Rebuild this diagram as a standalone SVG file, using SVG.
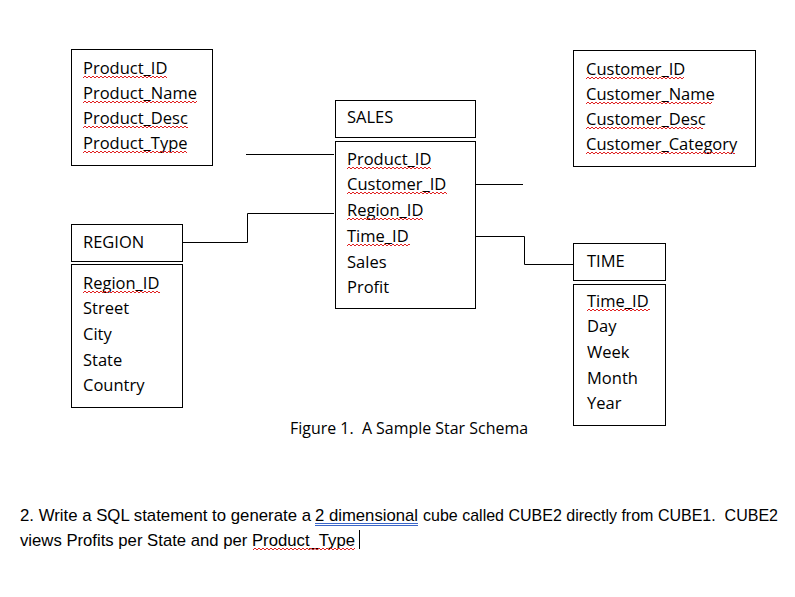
<svg xmlns="http://www.w3.org/2000/svg" width="795" height="597" viewBox="0 0 795 597">
<defs>
<pattern id="sqp" width="4" height="4" patternUnits="userSpaceOnUse">
<path d="M0 3 L2 1 L4 3" fill="none" stroke="#e02020" stroke-width="1"/>
</pattern>
</defs>
<style>
.box{fill:#fff;stroke:#000;stroke-width:1}
.t{font-family:"Open Sans","DejaVu Sans",sans-serif;font-size:16.5px;fill:#000;white-space:pre}
.q{font-family:"Liberation Sans",Arial,sans-serif;font-size:17px;fill:#000;white-space:pre}
.sq{fill:url(#sqp)}
.ln{fill:none;stroke:#000;stroke-width:1}
</style>
<rect width="795" height="597" fill="#fff"/>

<g id="product">
<rect class="box" x="71.5" y="49.5" width="141" height="116"/>
<text class="t" x="83" y="74">Product_ID</text>
<text class="t" x="83" y="99">Product_Name</text>
<text class="t" x="83" y="124">Product_Desc</text>
<text class="t" x="83" y="149">Product_Type</text>
<rect class="sq" transform="translate(83,75)" width="84" height="4"/>
<rect class="sq" transform="translate(83,100)" width="114" height="4"/>
<rect class="sq" transform="translate(83,125)" width="105" height="4"/>
<rect class="sq" transform="translate(83,150)" width="104" height="4"/>
</g>

<g id="customer">
<rect class="box" x="573.5" y="50.5" width="182" height="116"/>
<text class="t" x="586" y="75">Customer_ID</text>
<text class="t" x="586" y="100">Customer_Name</text>
<text class="t" x="586" y="125">Customer_Desc</text>
<text class="t" x="586" y="150">Customer_Category</text>
<rect class="sq" transform="translate(586,76)" width="98" height="4"/>
<rect class="sq" transform="translate(586,101)" width="126" height="4"/>
<rect class="sq" transform="translate(586,126)" width="117" height="4"/>
<rect class="sq" transform="translate(586,151)" width="149" height="4"/>
</g>

<g id="sales">
<rect class="box" x="335.5" y="100.5" width="140" height="37"/>
<text class="t" x="347" y="123">SALES</text>
<rect class="box" x="335.5" y="141.5" width="140" height="167"/>
<text class="t" x="347" y="165">Product_ID</text>
<text class="t" x="347" y="190">Customer_ID</text>
<text class="t" x="347" y="216">Region_ID</text>
<text class="t" x="347" y="242">Time_ID</text>
<text class="t" x="347" y="268">Sales</text>
<text class="t" x="347" y="293">Profit</text>
<rect class="sq" transform="translate(347,166)" width="84" height="4"/>
<rect class="sq" transform="translate(347,191)" width="100" height="4"/>
<rect class="sq" transform="translate(347,217)" width="76" height="4"/>
<rect class="sq" transform="translate(347,243)" width="63" height="4"/>
</g>

<g id="region">
<rect class="box" x="71.5" y="224.5" width="111" height="37"/>
<text class="t" x="83" y="248">REGION</text>
<rect class="box" x="71.5" y="264.5" width="111" height="143"/>
<text class="t" x="83" y="289">Region_ID</text>
<text class="t" x="83" y="314">Street</text>
<text class="t" x="83" y="340">City</text>
<text class="t" x="83" y="366">State</text>
<text class="t" x="83" y="391">Country</text>
<rect class="sq" transform="translate(83,290)" width="77" height="4"/>
</g>

<g id="time">
<rect class="box" x="573.5" y="243.5" width="92" height="37"/>
<text class="t" x="587" y="267">TIME</text>
<rect class="box" x="573.5" y="284.5" width="92" height="141"/>
<text class="t" x="587" y="307">Time_ID</text>
<text class="t" x="587" y="332">Day</text>
<text class="t" x="587" y="358">Week</text>
<text class="t" x="587" y="384">Month</text>
<text class="t" x="587" y="409">Year</text>
<rect class="sq" transform="translate(587,308)" width="63" height="4"/>
</g>

<g id="connectors">
<path class="ln" d="M246 154.5 H334"/>
<path class="ln" d="M476 184.5 H523"/>
<path class="ln" d="M183 242.5 H247.5 V213.5 H334"/>
<path class="ln" d="M476 236.5 H524.5 V264.5 H573"/>
</g>

<g id="caption">
<text class="t" x="290" y="434" textLength="238" lengthAdjust="spacingAndGlyphs">Figure 1.  A Sample Star Schema</text>
</g>

<g id="question">
<text class="q" x="20" y="521" textLength="291" lengthAdjust="spacingAndGlyphs">2. Write a SQL statement to generate a</text>
<text class="q" x="315" y="521" textLength="103" lengthAdjust="spacingAndGlyphs">2 dimensional</text>
<text class="q" x="423" y="521" textLength="355" lengthAdjust="spacingAndGlyphs">cube called CUBE2 directly from CUBE1.  CUBE2</text>
<text class="q" x="20" y="546" textLength="335" lengthAdjust="spacingAndGlyphs">views Profits per State and per Product_Type</text>
<path d="M315 523.5 H418 M315 525.5 H418" stroke="#3a66c8" stroke-width="1" fill="none"/>
<rect class="sq" transform="translate(253,547)" width="102" height="4"/>
<path d="M359.5 530 V549" stroke="#000" stroke-width="1"/>
</g>
</svg>
